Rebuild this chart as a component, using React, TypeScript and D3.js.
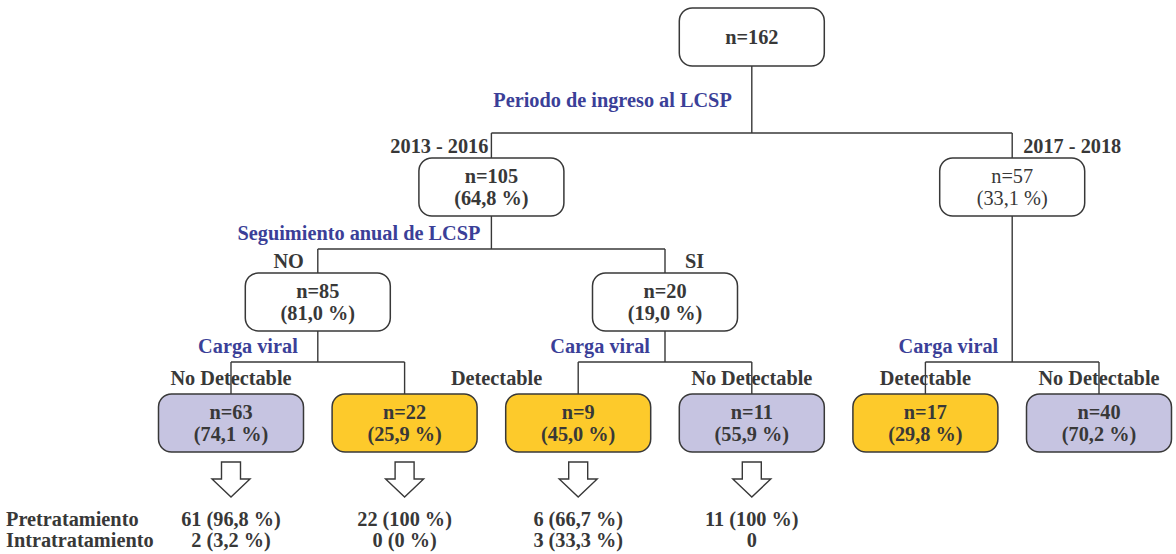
import React from "react";
import * as d3 from "d3";

// ---------- DATA ----------
const nodeCounts = [162, 105, 57, 85, 20, 63, 22, 9, 11, 17, 40];
const nodePcts = [null, "64,8", "33,1", "81,0", "19,0", "74,1", "25,9", "45,0", "55,9", "29,8", "70,2"];
const nodeParents = [null, 0, 0, 1, 1, 3, 3, 4, 4, 2, 2];
const nodeBold = [true, true, false, true, true, true, true, true, true, true, true];
const leafCategory = [null, null, null, null, null, "nd", "d", "d", "nd", "d", "nd"];
const branchLabels = ["", "2013 - 2016", "2017 - 2018", "NO", "SI", "No Detectable", "", "Detectable", "No Detectable", "Detectable", "No Detectable"];
const splitLabels = ["Periodo de ingreso al LCSP", "Seguimiento anual de LCSP", "Carga viral", "Carga viral", "Carga viral"];

const outcomeRowLabels = ["Pretratamiento", "Intratratamiento"];
const outcomeLeaves = [5, 6, 7, 8];
const outcomePre = ["61 (96,8 %)", "22 (100 %)", "6 (66,7 %)", "11 (100 %)"];
const outcomeIntra = ["2 (3,2 %)", "0 (0 %)", "3 (33,3 %)", "0"];

// ---------- LAYOUT / STYLE ----------
const W = 1176;
const H = 554;
const FONT = "'Liberation Serif', 'Times New Roman', serif";
const FS = 20.3;
const GRAY = "#383838";
const BLUE = "#3b3f98";
const FILLS: Record<string, string> = { nd: "#c6c4e1", d: "#fdca2b" };
const BOX_W = 145;
const BOX_H = 58;
const rowTop = [8, 158, 273, 394];
const splitYByChildRow = [0, 133, 249, 362];
const splitLabelGap: Record<number, number> = { 0: 20, 1: 11, 2: 14, 3: 20, 4: 15 };
const branchAnchor: Record<number, [string, number]> = {
  1: ["end", -3], 2: ["start", 11], 3: ["end", -14], 4: ["start", 20],
  5: ["middle", 0], 7: ["end", -36], 8: ["middle", 0], 9: ["middle", 0], 10: ["middle", 0],
};
const HALF = 7; // baseline offset from visual centre

type N = { id: number; children: N[] };

export default function App() {
  const ids = nodeCounts.map((_, i) => i);
  const childrenOf = (i: number) => ids.filter((j) => nodeParents[j] === i);
  const build = (i: number): N => ({ id: i, children: childrenOf(i).map(build) });
  const root = d3.hierarchy<N>(build(0), (d) => (d.children.length ? d.children : null));
  const leaves = root.leaves().map((l) => l.data.id);
  const xLeaf = d3.scalePoint<number>().domain(leaves).range([231, 1099]);

  const X: Record<number, number> = {};
  const ROW: Record<number, number> = {};
  root.eachAfter((n) => {
    const id = n.data.id;
    if (!n.children) {
      X[id] = xLeaf(id)!;
      ROW[id] = 3;
    } else {
      X[id] = d3.mean(n.children, (c) => X[c.data.id])!;
      ROW[id] = n.depth;
    }
  });

  const lines: JSX.Element[] = [];
  const labels: JSX.Element[] = [];
  root.each((n) => {
    if (!n.children) return;
    const id = n.data.id;
    const px = X[id];
    const pBottom = rowTop[ROW[id]] + BOX_H;
    const childRow = ROW[n.children[0].data.id];
    const sy = splitYByChildRow[childRow];
    const cxs = n.children.map((c) => X[c.data.id]);
    lines.push(<line key={`v${id}`} x1={px} x2={px} y1={pBottom} y2={sy} />);
    lines.push(<line key={`h${id}`} x1={d3.min(cxs)!} x2={d3.max(cxs)!} y1={sy} y2={sy} />);
    n.children.forEach((c) => {
      const cid = c.data.id;
      lines.push(<line key={`c${cid}`} x1={X[cid]} x2={X[cid]} y1={sy} y2={rowTop[ROW[cid]]} />);
      const bl = branchLabels[cid];
      if (bl) {
        const [anchor, dx] = branchAnchor[cid];
        const yMid = (sy + rowTop[ROW[cid]]) / 2;
        labels.push(
          <text key={`b${cid}`} x={X[cid] + dx} y={yMid + HALF} textAnchor={anchor} fill={GRAY} fontWeight="bold">
            {bl}
          </text>
        );
      }
    });
    const ly = ROW[id] === 0 ? (pBottom + sy) / 2 : sy - 16;
    labels.push(
      <text key={`s${id}`} x={px - splitLabelGap[id]} y={ly + HALF} textAnchor="end" fill={BLUE} fontWeight="bold">
        {splitLabels[id]}
      </text>
    );
  });

  const boxes = ids.map((id) => {
    const x = X[id];
    const top = rowTop[ROW[id]];
    const cat = leafCategory[id];
    const fill = cat ? FILLS[cat] : "#ffffff";
    const weight = nodeBold[id] ? "bold" : "normal";
    const pct = nodePcts[id];
    return (
      <g key={`n${id}`}>
        <rect x={x - BOX_W / 2} y={top} width={BOX_W} height={BOX_H} rx={13} ry={13} fill={fill} stroke={GRAY} strokeWidth={1.5} />
        {pct ? (
          <>
            <text x={x} y={top + 24.5} textAnchor="middle" fill={GRAY} fontWeight={weight}>{`n=${nodeCounts[id]}`}</text>
            <text x={x} y={top + 46.5} textAnchor="middle" fill={GRAY} fontWeight={weight}>{`(${pct} %)`}</text>
          </>
        ) : (
          <text x={x} y={top + BOX_H / 2 + HALF} textAnchor="middle" fill={GRAY} fontWeight={weight}>{`n=${nodeCounts[id]}`}</text>
        )}
      </g>
    );
  });

  const arrowTop = 462;
  const arrowMid = 479;
  const arrowTip = 497;
  const arrows = outcomeLeaves.map((id, i) => {
    const x = X[id];
    const path = d3.path();
    path.moveTo(x - 9.5, arrowTop);
    path.lineTo(x + 9.5, arrowTop);
    path.lineTo(x + 9.5, arrowMid);
    path.lineTo(x + 19, arrowMid);
    path.lineTo(x, arrowTip);
    path.lineTo(x - 19, arrowMid);
    path.lineTo(x - 9.5, arrowMid);
    path.closePath();
    return (
      <g key={`o${id}`}>
        <path d={path.toString()} fill="#fff" stroke={GRAY} strokeWidth={1.4} />
        <text x={x} y={526} textAnchor="middle" fill={GRAY} fontWeight="bold">{outcomePre[i]}</text>
        <text x={x} y={547} textAnchor="middle" fill={GRAY} fontWeight="bold">{outcomeIntra[i]}</text>
      </g>
    );
  });

  return (
    <svg
      width={W}
      height={H}
      style={{ position: "absolute", left: 0, top: 0, background: "#fff" }}
      fontFamily={FONT}
      fontSize={FS}
    >
      {labels}
      <g stroke={GRAY} strokeWidth={1.4}>{lines}</g>
      {boxes}
      {arrows}
      {outcomeRowLabels.map((t, i) => (
        <text key={t} x={6} y={526 + i * 21} fill={GRAY} fontWeight="bold">{t}</text>
      ))}
    </svg>
  );
}
